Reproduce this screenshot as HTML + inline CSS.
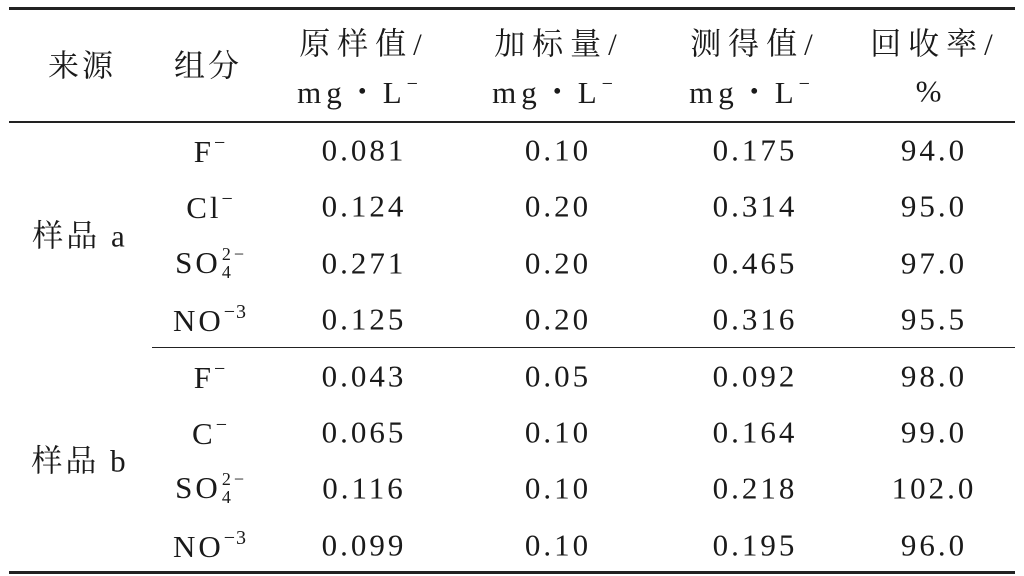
<!DOCTYPE html>
<html><head><meta charset="utf-8">
<style>
body{margin:0;background:#fff;}
#t{position:relative;width:1024px;height:576px;overflow:hidden;background:#fff;color:#1a1a1a;font-family:"Liberation Serif","Noto Serif CJK SC",serif;}
.c{position:absolute;transform:translate(-50%,-50%);white-space:nowrap;font-size:31px;line-height:1;letter-spacing:3px;}
.h{font-size:31px;letter-spacing:3px;}
.h2{font-size:31px;letter-spacing:7px;}
.u{letter-spacing:5px;}
.rule{position:absolute;background:#222;}
sup{font-size:20px;vertical-align:13px;letter-spacing:1px;}
.ss{display:inline-block;position:relative;width:24px;height:30px;vertical-align:-6px;}
.ss i{position:absolute;left:1px;font-style:normal;font-size:18px;}
</style></head><body>
<div id="t">
<div class="rule" style="left:9px;top:7px;width:1006px;height:3px"></div>
<div class="rule" style="left:9px;top:121px;width:1006px;height:2px"></div>
<div class="rule" style="left:152px;top:347px;width:863px;height:1px"></div>
<div class="rule" style="left:9px;top:571px;width:1006px;height:3px"></div>

<div class="c h" style="left:82px;top:66px">来源</div>
<div class="c h" style="left:208px;top:66px">组分</div>
<div class="c h2" style="left:364px;top:44px">原样值/</div>
<div class="c u" style="left:358px;top:91px">mg・L<sup>−</sup></div>
<div class="c h2" style="left:559px;top:44px">加标量/</div>
<div class="c u" style="left:553px;top:91px">mg・L<sup>−</sup></div>
<div class="c h2" style="left:755px;top:44px">测得值/</div>
<div class="c u" style="left:750px;top:91px">mg・L<sup>−</sup></div>
<div class="c h2" style="left:935px;top:44px">回收率/</div>
<div class="c" style="left:930px;top:91px">%</div>

<div class="c h" style="left:80px;top:236px">样品 a</div>
<div class="c h" style="left:80px;top:461px">样品 b</div>
</div>
<script>
const ions=['F<sup>−</sup>','Cl<sup>−</sup>','SO<span class="ss"><i style="top:-4px">2−</i><i style="top:14px">4</i></span>','NO<sup>−3</sup>','F<sup>−</sup>','C<sup>−</sup>','SO<span class="ss"><i style="top:-4px">2−</i><i style="top:14px">4</i></span>','NO<sup>−3</sup>'];
const original=['0.081','0.124','0.271','0.125','0.043','0.065','0.116','0.099'];
const spiked=['0.10','0.20','0.20','0.20','0.05','0.10','0.10','0.10'];
const measured=['0.175','0.314','0.465','0.316','0.092','0.164','0.218','0.195'];
const recovery=['94.0','95.0','97.0','95.5','98.0','99.0','102.0','96.0'];
const t=document.getElementById('t');
const cols=[[ions,210,'component'],[original,364,'original'],[spiked,558,'spiked'],[measured,755,'measured'],[recovery,934,'recovery']];
for(let r=0;r<8;r++){
  const y=150+r*56.4;
  cols.forEach(([arr,x,nm])=>{
    const d=document.createElement('div');
    d.className='c';
    d.style.left=x+'px';d.style.top=y+'px';
    d.innerHTML=arr[r];
    
    
    t.appendChild(d);
  });
}
</script>
</body></html>
